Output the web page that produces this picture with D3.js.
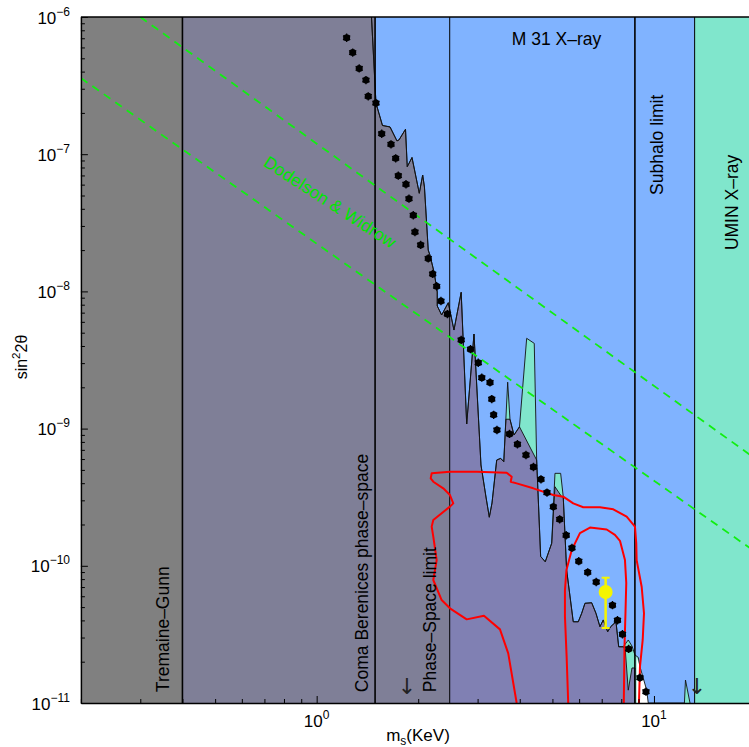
<!DOCTYPE html>
<html>
<head>
<meta charset="utf-8">
<script src="https://cdn.jsdelivr.net/npm/d3@7"></script>
<style>
  body { margin: 0; background: #fff; }
  svg { display: block; font-family: "Liberation Sans", Arial, sans-serif; }
</style>
</head>
<body>
<svg id="chart"></svg>
<script>
// ---- data (mass in KeV, sin^2 2theta) ----
const massRange = [0.2, 20];
const mixRange = [1e-11, 1e-6];
const xMajorTicks = [1, 10];
const yMajorTicks = [1e-11, 1e-10, 1e-9, 1e-8, 1e-7, 1e-6];

// vertical limits
const tremaineGunnMass = 0.4;
const comaMass = 1.49;
const phaseSpaceMass = 2.48;
const subhaloMass = 8.78;
const uminMass = 13.2;

// M31 X-ray exclusion curve (outer envelope)
const m31Curve = [
  [1.454, 1e-6], [1.499, 2.36e-7], [1.567, 1.62e-7], [1.650, 1.58e-7], [1.730, 1.25e-7],
  [1.754, 1.27e-7], [1.834, 1.52e-7], [1.856, 8.11e-8], [1.917, 9.46e-8], [2.015, 5.19e-8],
  [2.062, 7.05e-8], [2.087, 5.77e-8], [2.142, 2.00e-8], [2.167, 1.84e-8], [2.232, 1.36e-8],
  [2.278, 9.90e-9], [2.278, 7.83e-9], [2.347, 6.73e-9], [2.456, 8.27e-9], [2.553, 5.23e-9],
  [2.682, 9.85e-9], [2.785, 1.08e-9], [2.927, 4.89e-9], [3.070, 5.43e-10], [3.177, 3.17e-10],
  [3.250, 2.26e-10], [3.310, 2.87e-10], [3.418, 5.90e-10], [3.512, 6.07e-10], [3.587, 5.74e-10],
  [3.684, 2.18e-9], [3.742, 1.17e-9], [3.846, 8.98e-10], [3.993, 1.03e-9], [4.194, 4.55e-9],
  [4.417, 4.18e-9], [4.490, 5.90e-10], [4.614, 1.17e-10], [4.761, 1.07e-10], [4.975, 1.46e-10],
  [5.088, 4.72e-10], [5.289, 4.72e-10], [5.383, 3.19e-10], [5.509, 9.32e-11], [5.764, 3.91e-11],
  [5.965, 3.91e-11], [6.106, 4.51e-11], [6.244, 5.33e-11], [6.536, 5.38e-11], [6.730, 4.51e-11],
  [6.917, 3.60e-11], [7.075, 4.03e-11], [7.291, 3.31e-11], [7.442, 3.60e-11], [7.716, 3.91e-11],
  [7.860, 2.57e-11], [8.110, 2.57e-11], [8.391, 2.88e-11], [8.606, 2.60e-11], [8.783, 2.24e-11],
  [8.984, 2.15e-11], [9.089, 1.84e-11], [9.515, 1.24e-11], [9.618, 1e-11], [12.31, 1e-11],
  [12.40, 1.47e-11], [12.79, 1e-11]
];

// upper edge of the combined (purple) excluded region
const innerCurve = [
  [1.454, 1e-6], [1.499, 2.36e-7], [1.567, 1.62e-7], [1.650, 1.58e-7], [1.730, 1.25e-7],
  [1.754, 1.27e-7], [1.834, 1.52e-7], [1.856, 8.11e-8], [1.917, 9.46e-8], [2.015, 5.19e-8],
  [2.062, 7.05e-8], [2.087, 5.77e-8], [2.142, 2.00e-8], [2.167, 1.84e-8], [2.232, 1.36e-8],
  [2.278, 9.90e-9], [2.278, 7.83e-9], [2.347, 6.73e-9], [2.456, 8.27e-9], [2.553, 5.23e-9],
  [2.682, 9.85e-9], [2.785, 1.08e-9], [2.927, 4.89e-9], [3.070, 5.43e-10], [3.177, 3.17e-10],
  [3.250, 2.26e-10], [3.310, 2.87e-10], [3.418, 5.90e-10], [3.512, 6.07e-10], [3.587, 5.74e-10],
  [3.640, 1.17e-9], [3.742, 1.17e-9], [3.846, 8.98e-10], [3.993, 1.03e-9], [4.490, 5.90e-10],
  [4.614, 1.17e-10], [4.761, 1.07e-10], [4.975, 1.46e-10], [5.088, 3.77e-10], [5.325, 3.19e-10],
  [5.383, 3.19e-10], [5.509, 9.32e-11], [5.764, 3.91e-11], [5.965, 3.91e-11], [6.106, 4.51e-11],
  [6.244, 5.33e-11], [6.536, 5.38e-11], [6.730, 4.51e-11], [6.917, 3.60e-11], [7.075, 4.03e-11],
  [7.291, 3.31e-11], [7.442, 3.60e-11], [7.716, 3.91e-11], [7.860, 2.57e-11], [8.110, 2.57e-11],
  [8.222, 2.43e-11], [8.391, 1.24e-11], [8.606, 1.80e-11], [8.783, 1.80e-11], [8.783, 1e-11]
];

// unexcluded white gap near 9 KeV
const whiteGap = [[8.885, 2.16e-11], [9.089, 1.84e-11], [9.515, 1.24e-11], [9.618, 1e-11], [8.885, 1e-11]];

// Dodelson & Widrow production lines
const dwUpper = [[0.3, 1e-6], [20, 6.03e-10]];
const dwLower = [[0.2, 3.59e-7], [20, 1.26e-10]];

// star markers
const starPoints = [
  [1.227, 7.06e-7], [1.279, 5.50e-7], [1.337, 4.22e-7], [1.400, 3.47e-7], [1.422, 2.64e-7],
  [1.499, 2.36e-7], [1.559, 1.41e-7], [1.661, 1.18e-7], [1.715, 9.33e-8], [1.746, 6.97e-8],
  [1.840, 6.04e-8], [1.878, 4.74e-8], [1.934, 3.59e-8], [1.956, 2.71e-8], [2.034, 2.18e-8],
  [2.142, 1.74e-8], [2.208, 1.34e-8], [2.269, 1.09e-8], [2.336, 8.51e-9], [2.442, 6.84e-9],
  [2.682, 4.43e-9], [2.858, 3.79e-9], [3.014, 3.02e-9], [3.087, 2.35e-9], [3.265, 2.17e-9],
  [3.305, 1.64e-9], [3.348, 1.26e-9], [3.424, 9.77e-10], [3.730, 9.14e-10], [3.938, 7.69e-10],
  [4.174, 6.42e-10], [4.393, 5.25e-10], [4.624, 4.27e-10], [4.818, 3.42e-10], [5.030, 2.69e-10],
  [5.254, 2.18e-10], [5.492, 1.67e-10], [5.713, 1.35e-10], [5.985, 1.08e-10], [6.362, 8.97e-11],
  [6.741, 7.62e-11], [7.534, 5.16e-11], [7.795, 4.01e-11], [8.065, 3.17e-11], [8.414, 2.48e-11],
  [9.089, 1.53e-11], [9.469, 1.21e-11]
];

// red likelihood contours
const contourOuter = [
  [3.917, 1e-11], [3.698, 2.30e-11], [3.495, 3.44e-11], [3.133, 4.33e-11], [2.785, 4.07e-11],
  [2.484, 4.90e-11], [2.347, 5.63e-11], [2.217, 7.88e-11], [2.269, 1.10e-10], [2.217, 1.63e-10],
  [2.193, 1.93e-10], [2.217, 2.16e-10], [2.484, 2.70e-10], [2.541, 2.85e-10], [2.484, 3.28e-10],
  [2.373, 3.67e-10], [2.217, 4.10e-10], [2.178, 4.34e-10], [2.193, 4.72e-10], [2.484, 4.85e-10],
  [2.981, 4.85e-10], [3.659, 4.77e-10], [3.786, 4.46e-10], [3.761, 4.10e-10], [3.917, 3.99e-10],
  [4.386, 3.67e-10], [5.030, 3.28e-10], [5.383, 3.19e-10], [5.764, 2.85e-10], [6.171, 2.67e-10],
  [6.917, 2.67e-10], [7.575, 2.58e-10], [8.300, 2.28e-10], [8.783, 1.93e-10], [8.862, 1.46e-10],
  [8.885, 1.10e-10], [9.195, 7.04e-11], [9.342, 4.51e-11], [9.260, 2.88e-11], [9.089, 1.84e-11],
  [9.027, 1e-11]
];
const contourInner = [
  [5.569, 1e-11], [5.509, 2.18e-11], [5.446, 4.26e-11], [5.446, 6.66e-11], [5.502, 9.32e-11],
  [5.702, 1.30e-10], [6.033, 1.73e-10], [6.461, 1.90e-10], [7.241, 1.84e-10], [7.661, 1.68e-10],
  [7.929, 1.52e-10], [8.204, 1.10e-10], [8.277, 7.49e-11], [8.232, 4.51e-11], [8.177, 2.57e-11],
  [8.139, 1e-11]
];

// detection with error bar
const detectionMass = 7.19;
const detectionMix = 6.44e-11;
const detectionLow = 3.52e-11;
const detectionHigh = 8.19e-11;

const regionNames = ['Tremaine–Gunn', 'Coma Berenices phase–space', 'Phase–Space limit', 'Subhalo limit', 'UMIN X–ray'];

// ---- chart ----
const width = 749, height = 747;
const svg = d3.select('#chart').attr('width', width).attr('height', height);

const x = d3.scaleLog().domain(massRange).range([80.9, 755.5]);
const y = d3.scaleLog().domain(mixRange).range([703, 17]);
const plotTop = y(mixRange[1]), plotBottom = y(mixRange[0]);

const defs = svg.append('defs');
defs.append('clipPath').attr('id', 'plotClip').append('rect')
  .attr('x', x(massRange[0])).attr('y', plotTop)
  .attr('width', width - x(massRange[0])).attr('height', plotBottom - plotTop);
defs.append('clipPath').attr('id', 'lowClip').append('rect')
  .attr('x', x(massRange[0])).attr('y', plotTop)
  .attr('width', x(phaseSpaceMass) - x(massRange[0])).attr('height', plotBottom - plotTop);

const plot = svg.append('g').attr('clip-path', 'url(#plotClip)');
const line = d3.line().x(d => x(d[0])).y(d => y(d[1]));
const band = (m0, m1, color) => plot.append('rect')
  .attr('x', x(m0)).attr('y', plotTop).attr('width', x(m1) - x(m0)).attr('height', plotBottom - plotTop)
  .attr('fill', color);

// region fills
band(massRange[0], massRange[1], '#80b3ff');
band(uminMass, massRange[1], '#80e6cc');
plot.append('path').attr('d', line(m31Curve.concat([[m31Curve[0][0], mixRange[0]]])) + 'Z')
  .attr('fill', '#80e6cc');
plot.append('path').attr('d', line(whiteGap) + 'Z').attr('fill', '#ffffff');
const innerPoly = line(innerCurve.concat([[innerCurve[0][0], mixRange[0]]])) + 'Z';
plot.append('path').attr('d', innerPoly).attr('fill', '#8080b3');
plot.append('path').attr('d', innerPoly).attr('fill', '#7f7f97').attr('clip-path', 'url(#lowClip)');
band(tremaineGunnMass, comaMass, '#7f7f97');
band(massRange[0], tremaineGunnMass, '#808080');

// curve outlines
plot.append('path').attr('d', line(m31Curve)).attr('fill', 'none')
  .attr('stroke', '#111').attr('stroke-width', 0.9);
plot.append('path').attr('d', line(innerCurve)).attr('fill', 'none')
  .attr('stroke', '#111').attr('stroke-width', 0.9);

// vertical limit lines
plot.selectAll('.limit')
  .data([tremaineGunnMass, comaMass, phaseSpaceMass, subhaloMass, uminMass])
  .join('line')
  .attr('class', 'limit')
  .attr('x1', d => x(d)).attr('x2', d => x(d))
  .attr('y1', plotTop).attr('y2', plotBottom)
  .attr('stroke', '#000')
  .attr('stroke-width', d => (d === uminMass || d === phaseSpaceMass) ? 1 : 1.6);

// Dodelson & Widrow
plot.selectAll('.dw')
  .data([dwUpper, dwLower])
  .join('path')
  .attr('class', 'dw')
  .attr('d', line)
  .attr('fill', 'none')
  .attr('stroke', '#11ee11').attr('stroke-width', 1.8)
  .attr('stroke-dasharray', '8,6');

// red contours
plot.selectAll('.contour')
  .data([contourOuter, contourInner])
  .join('path')
  .attr('class', 'contour')
  .attr('d', line)
  .attr('fill', 'none')
  .attr('stroke', '#ff0000').attr('stroke-width', 2)
  .attr('stroke-linejoin', 'round');

// star markers
const starShape = d3.symbolAsterisk || d3.symbolCross;
const stars = plot.selectAll('.star')
  .data(starPoints)
  .join('g')
  .attr('class', 'star')
  .attr('transform', d => `translate(${x(d[0])},${y(d[1])})`);
stars.append('circle').attr('r', 3.5).attr('fill', '#000');
stars.append('path').attr('d', d3.symbol(starShape, 48)).attr('fill', 'none')
  .attr('stroke', '#000').attr('stroke-width', 1.3);

// detection point
const dx = x(detectionMass);
plot.append('line').attr('x1', dx).attr('x2', dx)
  .attr('y1', y(detectionLow)).attr('y2', y(detectionHigh))
  .attr('stroke', '#f5f500').attr('stroke-width', 2.5);
[detectionLow, detectionHigh].forEach(v => {
  plot.append('line').attr('x1', dx - 4).attr('x2', dx + 4)
    .attr('y1', y(v)).attr('y2', y(v))
    .attr('stroke', '#f5f500').attr('stroke-width', 2);
});
plot.append('circle').attr('cx', dx).attr('cy', y(detectionMix)).attr('r', 7).attr('fill', '#f5f500');

// region labels
const labelBase = 1.2e-11;
const vLabels = [
  [regionNames[0], 0.350, labelBase],
  [regionNames[1], 1.362, labelBase],
  [regionNames[2], 2.167, labelBase],
  [regionNames[3], 10.23, 5.05e-8],
  [regionNames[4], 17.03, 2.0e-8]
];
plot.selectAll('.vlabel')
  .data(vLabels)
  .join('text')
  .attr('class', 'vlabel')
  .attr('transform', d => `translate(${x(d[1])},${y(d[2])}) rotate(-90)`)
  .attr('dy', '0.35em')
  .attr('text-anchor', 'start')
  .attr('font-size', '17.5px')
  .attr('fill', '#000')
  .text(d => d[0]);

plot.append('text')
  .attr('x', x(3.79)).attr('y', y(6.25e-7))
  .attr('font-size', '17.5px').attr('fill', '#000')
  .text('M 31 X–ray');

plot.append('text')
  .attr('transform', `translate(${x(1.095)},${y(4.49e-8)}) rotate(33)`)
  .attr('text-anchor', 'middle').attr('dy', '0.35em')
  .attr('font-size', '17.5px').attr('fill', '#00e600')
  .text('Dodelson & Widrow');

// arrows
plot.selectAll('.arrow')
  .data([1.853, 13.41])
  .join('text')
  .attr('class', 'arrow')
  .attr('x', d => x(d)).attr('y', y(1.33e-11))
  .attr('dy', '0.35em').attr('text-anchor', 'middle')
  .attr('font-family', '"DejaVu Sans", sans-serif')
  .attr('font-size', '22px').attr('fill', '#222')
  .text('↓');

// ---- axes ----
const minorX = [];
[0.1, 1, 10].forEach(b => d3.range(1, 10).forEach(k => {
  const v = b * k;
  if (v >= massRange[0] && v <= massRange[1] && xMajorTicks.indexOf(v) < 0) minorX.push(v);
}));
const minorY = [];
yMajorTicks.slice(0, -1).forEach(b => d3.range(2, 10).forEach(k => minorY.push(b * k)));

const axisG = svg.append('g');
const xAxisG = axisG.append('g').attr('transform', `translate(0,${plotBottom})`);
xAxisG.call(d3.axisBottom(x).tickValues(xMajorTicks).tickSize(-7).tickSizeOuter(0).tickFormat(''));
xAxisG.append('g').call(d3.axisBottom(x).tickValues(minorX).tickSize(-4).tickSizeOuter(0).tickFormat(''))
  .select('.domain').remove();

const yAxisG = axisG.append('g').attr('transform', `translate(${x(massRange[0])},0)`);
yAxisG.call(d3.axisLeft(y).tickValues(yMajorTicks).tickSize(-7).tickSizeOuter(0).tickFormat(''));
yAxisG.append('g').call(d3.axisLeft(y).tickValues(minorY).tickSize(-4).tickSizeOuter(0).tickFormat(''))
  .select('.domain').remove();

axisG.append('line')
  .attr('x1', x(massRange[0])).attr('x2', width)
  .attr('y1', plotTop).attr('y2', plotTop)
  .attr('stroke', '#000').attr('stroke-width', 1.5);
axisG.selectAll('.domain').attr('stroke', '#000').attr('stroke-width', 1.5);
axisG.selectAll('.tick line').attr('stroke', '#000');

// tick labels as 10^n
const expText = (sel, n) => {
  sel.append('tspan').text('10');
  sel.append('tspan').attr('dy', -8).attr('font-size', '12px').text(n < 0 ? '−' + (-n) : String(n));
};
yMajorTicks.forEach(v => {
  const t = svg.append('text')
    .attr('x', 70).attr('y', y(v) + 6.5)
    .attr('text-anchor', 'end').attr('font-size', '17px');
  expText(t, Math.round(Math.log10(v)));
});
xMajorTicks.forEach(v => {
  const t = svg.append('text')
    .attr('x', x(v)).attr('y', 727)
    .attr('text-anchor', 'middle').attr('font-size', '17px');
  expText(t, Math.round(Math.log10(v)));
});

// axis titles
const xTitle = svg.append('text').attr('x', 418).attr('y', 741)
  .attr('text-anchor', 'middle').attr('font-size', '17px');
xTitle.append('tspan').text('m');
xTitle.append('tspan').attr('dy', 4).attr('font-size', '12px').text('s');
xTitle.append('tspan').attr('dy', -4).text('(KeV)');

const yTitle = svg.append('text')
  .attr('transform', `translate(27,357) rotate(-90)`)
  .attr('text-anchor', 'middle').attr('font-size', '16px');
yTitle.append('tspan').text('sin');
yTitle.append('tspan').attr('dy', -7).attr('font-size', '11.5px').text('2');
yTitle.append('tspan').attr('dy', 7).text('2θ');
</script>
</body>
</html>
